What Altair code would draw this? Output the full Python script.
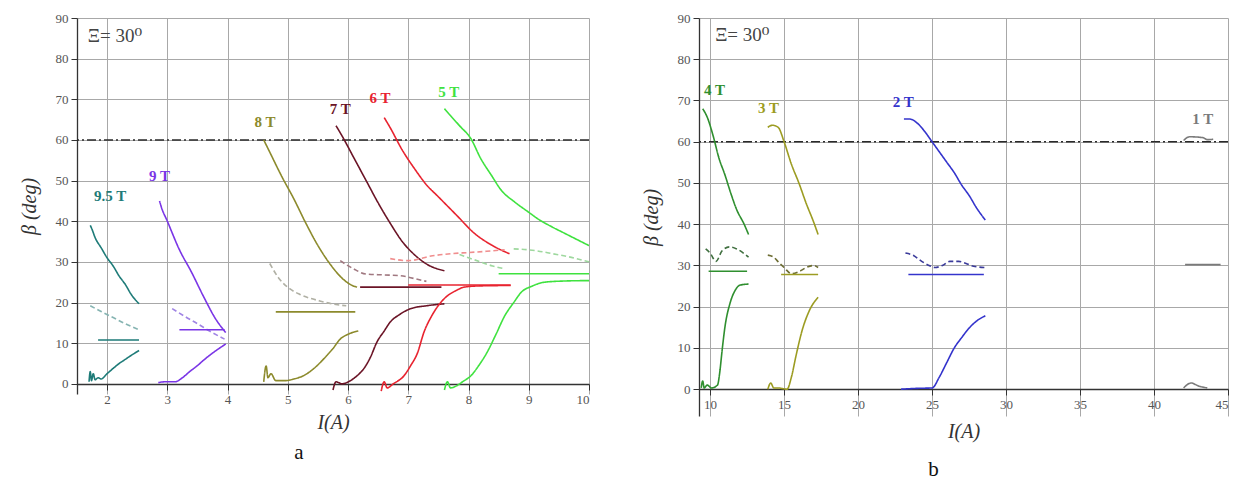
import altair as alt
import pandas as pd

# ---------------- panel a (I from 1.5 to 10 A) ----------------
s95_desc_x = [1.72, 1.75, 1.8, 1.9, 2.0, 2.1, 2.2, 2.3, 2.4, 2.53]
s95_desc_y = [39, 38, 36, 33.5, 31, 29, 26.5, 24.5, 22, 19.7]
s95_dash_x = [1.72, 1.9, 2.1, 2.3, 2.53]
s95_dash_y = [19.2, 17.8, 16.3, 14.8, 13.3]
s95_flat_x = [1.85, 2.53]
s95_flat_y = [10.8, 10.8]
s95_asc_x = [1.7, 1.72, 1.74, 1.77, 1.8, 1.85, 1.9, 2.0, 2.1, 2.2, 2.3, 2.4, 2.53]
s95_asc_y = [0.5, 3, 0.8, 2.5, 1, 1.5, 1.2, 2.5, 3.8, 5, 6, 7, 8.2]

s9_desc_x = [2.87, 2.9, 3.0, 3.2, 3.4, 3.6, 3.8, 3.97]
s9_desc_y = [45, 43.5, 40, 33, 27.5, 21.5, 16, 12.6]
s9_dash_x = [3.08, 3.3, 3.5, 3.7, 3.95]
s9_dash_y = [18.5, 16.5, 14.8, 13, 11]
s9_flat_x = [3.2, 3.95]
s9_flat_y = [13.3, 13.3]
s9_asc_x = [2.85, 2.95, 3.13, 3.25, 3.37, 3.5, 3.6, 3.7, 3.8, 3.97]
s9_asc_y = [0.3, 0.5, 0.5, 1.5, 3, 4.5, 5.8, 7, 8.1, 9.8]

s8_desc_x = [4.6, 4.7, 4.9, 5.1, 5.3, 5.5, 5.7, 5.9, 6.1, 6.15]
s8_desc_y = [60, 57, 51, 45.5, 39.5, 34, 29.5, 26, 24, 23.8]
s8_dash_x = [4.7, 4.85, 5.03, 5.2, 5.53, 5.8, 5.97]
s8_dash_y = [29.6, 26, 23.4, 22, 20.4, 19.5, 19.2]
s8_flat_x = [4.8, 6.12]
s8_flat_y = [17.7, 17.7]
s8_asc_x = [4.6, 4.64, 4.67, 4.72, 4.8, 4.97, 5.1, 5.26, 5.45, 5.6, 5.75, 5.87, 6.0, 6.17]
s8_asc_y = [0.5, 4.4, 1.5, 2.5, 0.8, 0.8, 1.2, 2, 4, 6.2, 8.7, 11, 12.2, 13]

s7_desc_x = [5.8, 5.9, 6.1, 6.3, 6.5, 6.7, 6.9, 7.1, 7.3, 7.6]
s7_desc_y = [63.5, 61, 55.5, 50, 44.5, 39.5, 35, 31.8, 29.5, 27.8]
s7_dash_x = [5.87, 6.09, 6.3, 6.6, 6.87, 7.1, 7.3]
s7_dash_y = [30.3, 28.3, 27, 26.8, 26.6, 25.9, 25.2]
s7_flat_x = [6.2, 7.55]
s7_flat_y = [23.8, 23.8]
s7_asc_x = [5.75, 5.8, 5.9, 6.03, 6.15, 6.26, 6.37, 6.48, 6.6, 6.7, 6.85, 7.04, 7.3, 7.6]
s7_asc_y = [-1.5, 0.5, 0, 0.7, 2, 3.7, 6.5, 10.3, 13, 15.2, 17, 18.5, 19.2, 19.7]

s6_desc_x = [6.6, 6.7, 6.9, 7.1, 7.3, 7.5, 7.8, 8.1, 8.4, 8.68]
s6_desc_y = [65.5, 63, 57.5, 53, 49, 46, 41.5, 37, 34, 32]
s6_dash_x = [6.7, 7.0, 7.4, 7.7, 8.0, 8.3, 8.6]
s6_dash_y = [30.8, 30.3, 31.5, 32, 32.3, 32.6, 33]
s6_flat_x = [7.0, 8.7]
s6_flat_y = [24.3, 24.3]
s6_asc_x = [6.55, 6.6, 6.65, 6.75, 6.93, 7.04, 7.15, 7.26, 7.4, 7.6, 7.8, 7.93, 8.2, 8.7]
s6_asc_y = [-1.8, 0.5, -1, 0, 2, 4.5, 7.5, 12.7, 17, 21, 23, 23.8, 24.1, 24.2]

s5_desc_x = [7.6, 7.7, 7.85, 8.04, 8.2, 8.38, 8.55, 8.76, 9.0, 9.15, 9.4, 9.6, 9.8, 10.0]
s5_desc_y = [67.7, 66, 63.5, 60.3, 55.5, 51.3, 47.5, 44.8, 42.2, 40.6, 38.5, 37, 35.5, 34]
s5_dash_x = [7.85, 8.1, 8.4, 8.6]
s5_dash_y = [31.8, 30.5, 29, 28.3]
s5_dash2_x = [8.75, 9.1, 9.4, 9.65, 10.0]
s5_dash2_y = [33.2, 32.8, 32, 31.3, 30]
s5_flat_x = [8.5, 10.0]
s5_flat_y = [27.1, 27.1]
s5_asc_x = [7.6, 7.65, 7.7, 7.8, 7.9, 8.04, 8.17, 8.31, 8.45, 8.6, 8.75, 8.88, 9.05, 9.26, 9.6, 10.0]
s5_asc_y = [-1.5, 0.5, -1, -0.5, 0.5, 2, 4.5, 7.8, 12, 16.7, 20, 22.6, 24, 25, 25.3, 25.4]

# ---------------- panel b (I from 9.25 to 45 A) ----------------
s4_desc_x = [9.5, 9.8, 10.2, 10.6, 11.0, 11.4, 11.8, 12.3, 12.6]
s4_desc_y = [68, 66, 61.5, 56, 52, 47.5, 43.5, 40, 37.5]
s4_dash_x = [9.7, 10.0, 10.4, 10.8, 11.3, 11.8, 12.6]
s4_dash_y = [34, 33, 31, 33.5, 34.5, 34, 32]
s4_flat_x = [9.9, 12.5]
s4_flat_y = [28.6, 28.6]
s4_asc_x = [9.4, 9.5, 9.6, 9.8, 10.1, 10.5, 10.65, 10.8, 11.0, 11.36, 11.7, 12.0, 12.6]
s4_asc_y = [0.3, 2, 0.3, 1, 0.3, 1, 4, 9, 15, 21, 24, 25.2, 25.5]

s3_desc_x = [13.9, 14.2, 14.6, 15.0, 15.5, 16.0, 16.5, 17.0, 17.3]
s3_desc_y = [63.5, 64, 63.5, 60, 54.5, 50, 45, 40.5, 37.5]
s3_dash_x = [13.9, 14.3, 14.7, 15.0, 15.5, 16.0, 16.5, 17.0, 17.3]
s3_dash_y = [32.5, 32, 30.5, 29.5, 28, 28.5, 29.5, 30, 29.5]
s3_flat_x = [14.8, 17.3]
s3_flat_y = [27.8, 27.8]
s3_asc_x = [13.9, 14.1, 14.3, 14.6, 15.2, 15.5, 15.8, 16.2, 16.7, 17.3]
s3_asc_y = [0, 1.5, 0.3, 0.3, 0, 3, 8, 14, 19, 22.3]

s2_desc_x = [23.1, 23.5, 24.0, 24.5, 25.0, 25.5, 26.0, 26.5, 27.0, 27.5, 28.0, 28.6]
s2_desc_y = [65.5, 65.5, 64.5, 62.5, 60, 57.5, 55, 52.5, 49.5, 47, 44, 41]
s2_dash_x = [23.2, 23.7, 24.3, 24.8, 25.2, 25.7, 26.2, 26.8, 27.3, 27.8, 28.6]
s2_dash_y = [33, 32.5, 31, 30, 29.5, 30, 31, 31, 30.5, 29.8, 29.5]
s2_flat_x = [23.4, 28.5]
s2_flat_y = [27.8, 27.8]
s2_asc_x = [22.9, 24.0, 25.0, 25.5, 26.0, 26.5, 27.0, 27.5, 28.0, 28.6]
s2_asc_y = [0, 0.2, 0.3, 3, 6.5, 10, 12.5, 14.8, 16.5, 17.8]

s1_top_x = [42.0, 42.4, 43.3, 43.6, 44.0]
s1_top_y = [60.3, 61.2, 61, 60.5, 60.6]
s1_flat_x = [42.1, 44.5]
s1_flat_y = [30.2, 30.2]
s1_low_x = [42.0, 42.5, 43.0, 43.6]
s1_low_y = [0.3, 1.5, 0.8, 0.3]

# labels
left_labels = ["9.5 T", "9 T", "8 T", "7 T", "6 T", "5 T"]
left_label_x = [2.05, 2.87, 4.62, 5.87, 6.53, 7.67]
left_label_y = [46.3, 51.2, 64.5, 67.7, 70.2, 71.9]
right_labels = ["4 T", "3 T", "2 T", "1 T"]
right_label_x = [10.3, 13.95, 23.06, 43.3]
right_label_y = [72.6, 68.2, 69.7, 65.5]

fields = ["9.5 T", "9 T", "8 T", "7 T", "6 T", "5 T", "4 T", "3 T", "2 T", "1 T"]
solid_colors = ["#1e7b78", "#7a35e6", "#8c8a2c", "#6b1426", "#e8232f",
                "#3fe23f", "#2f8f2f", "#9c9c22", "#3434cc", "#7a7a7a"]
dash_colors = ["#86b4b2", "#a084e4", "#b0b0a4", "#a07880", "#f08e8e",
               "#9ed89e", "#3f6f3f", "#6e6e34", "#3a3a9a", "#888888"]

left_series = [
    ("9.5 T", "solid", s95_desc_x, s95_desc_y), ("9.5 T", "dash", s95_dash_x, s95_dash_y),
    ("9.5 T", "solid", s95_flat_x, s95_flat_y), ("9.5 T", "solid", s95_asc_x, s95_asc_y),
    ("9 T", "solid", s9_desc_x, s9_desc_y), ("9 T", "dash", s9_dash_x, s9_dash_y),
    ("9 T", "solid", s9_flat_x, s9_flat_y), ("9 T", "solid", s9_asc_x, s9_asc_y),
    ("8 T", "solid", s8_desc_x, s8_desc_y), ("8 T", "dash", s8_dash_x, s8_dash_y),
    ("8 T", "solid", s8_flat_x, s8_flat_y), ("8 T", "solid", s8_asc_x, s8_asc_y),
    ("7 T", "solid", s7_desc_x, s7_desc_y), ("7 T", "dash", s7_dash_x, s7_dash_y),
    ("7 T", "solid", s7_flat_x, s7_flat_y), ("7 T", "solid", s7_asc_x, s7_asc_y),
    ("6 T", "solid", s6_desc_x, s6_desc_y), ("6 T", "dash", s6_dash_x, s6_dash_y),
    ("6 T", "solid", s6_flat_x, s6_flat_y), ("6 T", "solid", s6_asc_x, s6_asc_y),
    ("5 T", "solid", s5_desc_x, s5_desc_y), ("5 T", "dash", s5_dash_x, s5_dash_y),
    ("5 T", "dash", s5_dash2_x, s5_dash2_y),
    ("5 T", "solid", s5_flat_x, s5_flat_y), ("5 T", "solid", s5_asc_x, s5_asc_y),
]
right_series = [
    ("4 T", "solid", s4_desc_x, s4_desc_y), ("4 T", "dash", s4_dash_x, s4_dash_y),
    ("4 T", "solid", s4_flat_x, s4_flat_y), ("4 T", "solid", s4_asc_x, s4_asc_y),
    ("3 T", "solid", s3_desc_x, s3_desc_y), ("3 T", "dash", s3_dash_x, s3_dash_y),
    ("3 T", "solid", s3_flat_x, s3_flat_y), ("3 T", "solid", s3_asc_x, s3_asc_y),
    ("2 T", "solid", s2_desc_x, s2_desc_y), ("2 T", "dash", s2_dash_x, s2_dash_y),
    ("2 T", "solid", s2_flat_x, s2_flat_y), ("2 T", "solid", s2_asc_x, s2_asc_y),
    ("1 T", "solid", s1_top_x, s1_top_y), ("1 T", "solid", s1_flat_x, s1_flat_y),
    ("1 T", "solid", s1_low_x, s1_low_y),
]

color_domain = [f + "|solid" for f in fields] + [f + "|dash" for f in fields]
color_range = solid_colors + dash_colors
color_scale = alt.Scale(domain=color_domain, range=color_range)
dash_scale = alt.Scale(domain=["solid", "dash"], range=[[1, 0], [5, 3]])

SERIF = "Liberation Serif, Times New Roman, DejaVu Serif, serif"


def series_frame(series):
    rows = []
    for sid, (field, kind, xs, ys) in enumerate(series):
        for i, (xv, yv) in enumerate(zip(xs, ys)):
            rows.append({"x": xv, "y": yv, "sid": sid, "i": i,
                         "key": field + "|" + kind, "kind": kind})
    return pd.DataFrame(rows)


def label_frame(names, xs, ys):
    return pd.DataFrame({"x": xs, "y": ys, "text": names,
                         "key": [n + "|solid" for n in names]})


def cond(test, a, b):
    return {"condition": {"test": test, "value": a}, "value": b}


def panel(series, labels, xdom, xvals, xmajor, ydom, width, height, xoff,
          xi_x, xi_y, letter, letter_dx, title_pad, letter_offset):
    df = series_frame(series)
    xmaj_test = f"abs(datum.value / {xmajor} - round(datum.value / {xmajor})) < 0.001"
    x_axis = alt.Axis(
        values=xvals, labelExpr=f"({xmaj_test}) ? format(datum.value, '~g') : ''",
        title="I(A)", titleFont=SERIF, titleFontStyle="italic", titleFontWeight="normal",
        titleFontSize=20, titleColor="#333", titlePadding=title_pad,
        labelFont=SERIF, labelFontSize=13, labelColor="#555", labelPadding=3,
        offset=xoff, grid=True,
        gridColor=cond(xmaj_test, "#a8a8a8", "#e2e2e2"),
        tickSize=cond(xmaj_test, 6, 4),
        domainColor="#333", tickColor="#333", domainWidth=1.3,
    )
    ymaj_test = "datum.value % 10 == 0"
    y_axis = alt.Axis(
        values=list(range(0, 91, 5)), labelExpr=f"({ymaj_test}) ? datum.label : ''",
        title="β (deg)", titleFont=SERIF, titleFontStyle="italic", titleFontWeight="normal",
        titleFontSize=20, titleColor="#333", titlePadding=16,
        labelFont=SERIF, labelFontSize=13, labelColor="#555", labelPadding=3,
        grid=True,
        gridColor=cond(ymaj_test, "#a8a8a8", "#e2e2e2"),
        tickSize=cond(ymaj_test, 6, 4),
        domainColor="#333", tickColor="#333", domainWidth=1.3,
    )
    xs = alt.X("x:Q", scale=alt.Scale(domain=xdom, nice=False, zero=False), axis=x_axis)
    ys = alt.Y("y:Q", scale=alt.Scale(domain=ydom, nice=False, zero=False), axis=y_axis)

    lines = alt.Chart(df).mark_line(strokeWidth=1.6, clip=True, interpolate="monotone").encode(
        x=xs, y=ys,
        detail="sid:N",
        order="i:Q",
        color=alt.Color("key:N", scale=color_scale, legend=None),
        strokeDash=alt.StrokeDash("kind:N", scale=dash_scale, legend=None),
    )
    ref = alt.Chart(pd.DataFrame({"y": [60]})).mark_rule(
        color="#2a2a2a", strokeWidth=1.6, strokeDash=[9, 3, 2, 3]
    ).encode(y=alt.Y("y:Q"))
    lab = alt.Chart(labels).mark_text(
        font=SERIF, fontWeight="bold", fontSize=15
    ).encode(x="x:Q", y="y:Q", text="text:N",
             color=alt.Color("key:N", scale=color_scale, legend=None))
    xi = alt.Chart(pd.DataFrame({"x": [xi_x], "y": [xi_y], "t": ["Ξ= 30⁰"]})).mark_text(
        font=SERIF, fontSize=19, color="#444", align="left"
    ).encode(x="x:Q", y="y:Q", text="t:N")

    return alt.layer(ref, lines, lab, xi).properties(
        width=width, height=height,
        title=alt.TitleParams(letter, orient="bottom", font=SERIF, fontSize=21,
                              fontWeight="normal", color="#111", dx=letter_dx,
                              offset=letter_offset),
    )


left = panel(left_series, label_frame(left_labels, left_label_x, left_label_y),
             [1.5, 10], [x / 2 for x in range(4, 21)], 1, [-2.5, 90], 512, 376, -10,
             1.68, 85.6, "a", -34, 6, 10)
right = panel(right_series, label_frame(right_labels, right_label_x, right_label_y),
              [9.25, 45], [10 + 2.5 * k for k in range(15)], 5, [-6.5, 90], 529, 398, -27,
              10.34, 85.9, "b", -30, 10, 18)

chart = alt.hconcat(left, right, spacing=51).configure_view(stroke=None).properties(
    padding={"left": 11, "top": 4, "right": 0, "bottom": 0},
    background="white",
)

chart.save("out.html", embed_options={"renderer": "svg", "actions": False})
